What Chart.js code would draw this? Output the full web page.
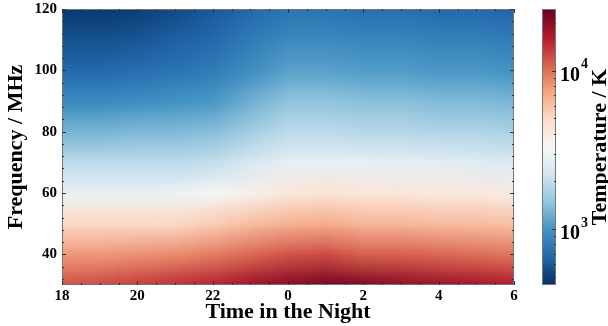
<!DOCTYPE html>
<html>
<head>
<meta charset="utf-8">
<script src="https://cdn.jsdelivr.net/npm/chart.js@4.4.1/dist/chart.umd.min.js"></script>
<style>
  html, body { margin: 0; padding: 0; background: #fff; }
</style>
</head>
<body>
<canvas id="heat" width="608" height="326"></canvas>
<script>
// clock hours across the night, frequencies in MHz
const HOURS = [18, 19, 20, 21, 22, 23, 0, 1, 2, 3, 4, 5, 6];
const FREQS = [30, 40, 50, 60, 70, 80, 90, 100, 110, 120];
// sky temperature in K, one row per frequency (same order as FREQS)
const T_30  = [11900, 12400, 13400, 14500, 15700, 18500, 20800, 22600, 21700, 20000, 18500, 17800, 16400];
const T_40  = [7960, 7960, 8290, 8630, 9340, 10540, 11880, 12370, 10970, 10970, 10540, 10120, 9730];
const T_50  = [5000, 5000, 5000, 5050, 5550, 6260, 6780, 7060, 6520, 6520, 6260, 6260, 6020];
const T_60  = [2920, 2920, 2920, 2950, 3250, 3710, 4190, 4370, 4190, 4190, 4030, 4030, 3870];
const T_70  = [1960, 1960, 1960, 1960, 2040, 2390, 2810, 2810, 2810, 2700, 2700, 2590, 2490];
const T_80  = [1310, 1310, 1360, 1360, 1420, 1670, 1960, 1960, 1880, 1880, 1810, 1810, 1740];
const T_90  = [910, 910, 950, 990, 1030, 1260, 1480, 1480, 1420, 1420, 1360, 1360, 1310];
const T_100 = [690, 690, 720, 750, 810, 950, 1120, 1120, 1070, 1070, 1030, 1030, 990];
const T_110 = [570, 570, 590, 640, 690, 810, 910, 910, 880, 880, 840, 840, 810];
const T_120 = [480, 480, 500, 540, 610, 690, 750, 750, 720, 720, 690, 690, 660];
const TEMPS = [T_30, T_40, T_50, T_60, T_70, T_80, T_90, T_100, T_110, T_120];

const TIME_TICKS = [18, 20, 22, 0, 2, 4, 6];
const FREQ_TICKS = [40, 60, 80, 100, 120];
const CBAR_TICKS = [1000, 10000];
const T_MIN = 444, T_MAX = 24500;

// RdBu reversed (blue = cold, red = hot)
const RDBU_R = ['#053061', '#2166ac', '#4393c3', '#92c5de', '#d1e5f0', '#f7f7f7',
                '#fddbc7', '#f4a582', '#d6604d', '#b2182b', '#67001f'];

const FONT = "'Liberation Serif', 'Times New Roman', serif";
const toAxis = h => h < 12 ? h + 24 : h;

function hex(c) {
    return [parseInt(c.slice(1, 3), 16), parseInt(c.slice(3, 5), 16), parseInt(c.slice(5, 7), 16)];
}
const STOPS = RDBU_R.map(hex);

function cmap(T) {
    let t = (Math.log10(T) - Math.log10(T_MIN)) / (Math.log10(T_MAX) - Math.log10(T_MIN));
    t = Math.min(1, Math.max(0, t)) * (STOPS.length - 1);
    let i = Math.min(STOPS.length - 2, Math.floor(t));
    let f = t - i;
    let a = STOPS[i], b = STOPS[i + 1];
    return [0, 1, 2].map(k => Math.round(a[k] + (b[k] - a[k]) * f));
}

let points = [];
FREQS.forEach((f, fi) => {
    HOURS.forEach((h, hi) => points.push({x: toAxis(h), y: f, v: TEMPS[fi][hi]}));
});

// draws the grid as a small image stretched over the scales (smoothed like gouraud shading)
const heatmapPlugin = {
    id: 'heatmap',
    beforeDatasetsDraw(chart) {
        const ctx = chart.ctx, xs = chart.scales.x, ys = chart.scales.y, area = chart.chartArea;
        const nx = HOURS.length, ny = FREQS.length;
        const off = document.createElement('canvas');
        off.width = nx; off.height = ny;
        const octx = off.getContext('2d');
        const img = octx.createImageData(nx, ny);
        chart.data.datasets[0].data.forEach((p, k) => {
            const fi = Math.floor(k / nx), hi = k % nx;
            const row = ny - 1 - fi;
            const c = cmap(p.v);
            const o = (row * nx + hi) * 4;
            img.data[o] = c[0]; img.data[o + 1] = c[1]; img.data[o + 2] = c[2]; img.data[o + 3] = 255;
        });
        octx.putImageData(img, 0, 0);

        const dx = (toAxis(HOURS[1]) - toAxis(HOURS[0])) / 2;
        const dy = (FREQS[1] - FREQS[0]) / 2;
        const x0 = xs.getPixelForValue(toAxis(HOURS[0]) - dx);
        const x1 = xs.getPixelForValue(toAxis(HOURS[nx - 1]) + dx);
        const y0 = ys.getPixelForValue(FREQS[ny - 1] + dy);
        const y1 = ys.getPixelForValue(FREQS[0] - dy);

        ctx.save();
        ctx.beginPath();
        ctx.rect(area.left, area.top, area.right - area.left, area.bottom - area.top);
        ctx.clip();
        ctx.imageSmoothingEnabled = true;
        ctx.imageSmoothingQuality = 'low';
        ctx.drawImage(off, x0, y0, x1 - x0, y1 - y0);
        ctx.restore();
    },
    afterDraw(chart) {
        const ctx = chart.ctx, xs = chart.scales.x, ys = chart.scales.y, cs = chart.scales.c;
        const a = chart.chartArea;
        ctx.save();
        // frame
        ctx.strokeStyle = '#777';
        ctx.lineWidth = 1;
        ctx.strokeRect(a.left + 0.5, a.top + 0.5, a.right - a.left - 1, a.bottom - a.top - 1);

        // inward ticks
        ctx.strokeStyle = '#333';
        ctx.beginPath();
        for (let v = 18; v <= 30.001; v += 0.5) {
            const major = TIME_TICKS.map(toAxis).includes(v);
            const len = major ? 4 : 2;
            const px = Math.round(xs.getPixelForValue(v)) + 0.5;
            ctx.moveTo(px, a.bottom); ctx.lineTo(px, a.bottom - len);
            ctx.moveTo(px, a.top); ctx.lineTo(px, a.top + len);
        }
        for (let v = 32; v <= 120; v += 4) {
            const major = FREQ_TICKS.includes(v);
            const len = major ? 4 : 2;
            const py = Math.round(ys.getPixelForValue(v)) + 0.5;
            ctx.moveTo(a.left, py); ctx.lineTo(a.left + len, py);
            ctx.moveTo(a.right, py); ctx.lineTo(a.right - len, py);
        }
        ctx.stroke();

        // colorbar
        const cbL = a.right + 28, cbW = 14;
        for (let py = Math.floor(cs.top); py < cs.bottom; py++) {
            const c = cmap(cs.getValueForPixel(py + 0.5));
            ctx.fillStyle = `rgb(${c[0]},${c[1]},${c[2]})`;
            ctx.fillRect(cbL, py, cbW, 1);
        }
        ctx.strokeStyle = '#777';
        ctx.strokeRect(cbL + 0.5, cs.top + 0.5, cbW - 1, cs.bottom - cs.top - 1);

        ctx.strokeStyle = '#333';
        ctx.beginPath();
        [100, 1000, 10000].forEach(d => {
            for (let k = 1; k <= 9; k++) {
                const v = k * d;
                if (v < T_MIN || v > T_MAX) continue;
                const len = CBAR_TICKS.includes(v) ? 4 : 2;
                const py = Math.round(cs.getPixelForValue(v)) + 0.5;
                ctx.moveTo(cbL + cbW, py); ctx.lineTo(cbL + cbW - len, py);
            }
        });
        ctx.stroke();

        ctx.fillStyle = '#000';
        ctx.textAlign = 'left';
        ctx.textBaseline = 'alphabetic';
        CBAR_TICKS.forEach(v => {
            const py = cs.getPixelForValue(v);
            ctx.font = `bold 20px ${FONT}`;
            ctx.fillText('10', cbL + cbW + 4, py + 10);
            const w = ctx.measureText('10').width;
            ctx.font = `bold 14px ${FONT}`;
            ctx.fillText(String(Math.round(Math.log10(v))), cbL + cbW + 4 + w + 1, py - 2.5);
        });

        ctx.translate(606, (cs.top + cs.bottom) / 2);
        ctx.rotate(-Math.PI / 2);
        ctx.textAlign = 'center';
        ctx.font = `bold 22px ${FONT}`;
        ctx.fillText('Temperature / K', 0, 0);
        ctx.restore();
    }
};

new Chart(document.getElementById('heat'), {
    type: 'scatter',
    data: {
        datasets: [{
            label: 'Temperature',
            data: points,
            pointRadius: 0,
            pointHoverRadius: 0,
            showLine: false
        }]
    },
    options: {
        responsive: false,
        animation: false,
        events: [],
        layout: { padding: { top: 9, right: 94, left: 0, bottom: 0 } },
        plugins: { legend: { display: false }, tooltip: { enabled: false } },
        scales: {
            x: {
                type: 'linear',
                min: toAxis(HOURS[0]),
                max: toAxis(HOURS[HOURS.length - 1]),
                afterBuildTicks: s => { s.ticks = TIME_TICKS.map(h => ({value: toAxis(h)})); },
                afterFit: s => { s.height = 41; s.paddingLeft = 0; s.paddingRight = 0; },
                grid: { display: false, drawTicks: false },
                border: { display: false },
                ticks: {
                    color: '#000',
                    padding: 2,
                    maxRotation: 0,
                    font: { family: FONT, size: 15, weight: 'bold' },
                    callback: v => String(v % 24)
                },
                title: {
                    display: true,
                    text: 'Time in the Night',
                    color: '#000',
                    padding: { top: 0, bottom: 0 },
                    font: { family: FONT, size: 22, weight: 'bold' }
                }
            },
            y: {
                type: 'linear',
                min: FREQS[0],
                max: FREQS[FREQS.length - 1],
                afterBuildTicks: s => { s.ticks = FREQ_TICKS.map(f => ({value: f})); },
                afterFit: s => { s.width = 62; s.paddingTop = 0; s.paddingBottom = 0; },
                grid: { display: false, drawTicks: false },
                border: { display: false },
                ticks: {
                    color: '#000',
                    padding: 5,
                    font: { family: FONT, size: 15, weight: 'bold' }
                },
                title: {
                    display: true,
                    text: 'Frequency / MHz',
                    color: '#000',
                    padding: { top: 3, bottom: 0 },
                    font: { family: FONT, size: 22, weight: 'bold' }
                }
            },
            c: {
                type: 'logarithmic',
                axis: 'y',
                position: 'right',
                display: false,
                min: T_MIN,
                max: T_MAX,
                afterFit: s => { s.paddingTop = 0; s.paddingBottom = 0; }
            }
        }
    },
    plugins: [heatmapPlugin]
});
</script>
</body>
</html>
